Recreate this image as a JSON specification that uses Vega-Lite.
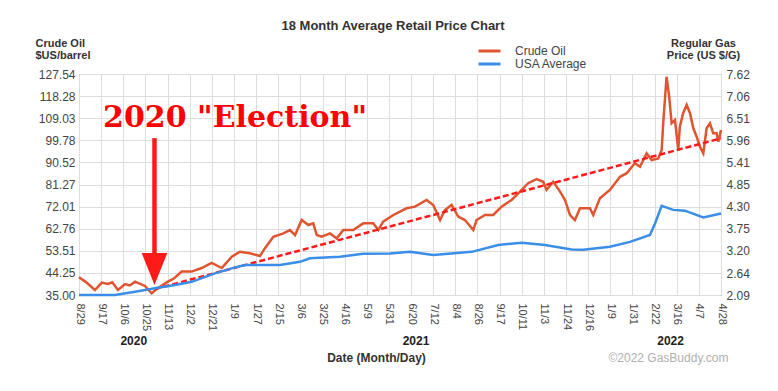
{
  "$schema": "https://vega.github.io/schema/vega-lite/v6.json",
  "width": 642,
  "height": 221,
  "autosize": {"type": "none"},
  "padding": {"left": 79, "top": 74, "right": 57, "bottom": 96},
  "background": "white",
  "title": {"text": "18 Month Average Retail Price Chart", "fontSize": 13, "fontWeight": "bold", "color": "#333333", "font": "Liberation Sans", "anchor": "middle", "frame": "group", "dx": -7},
  "config": {
    "font": "Liberation Sans",
    "view": {"stroke": "#555555", "strokeWidth": 1},
    "legend": {"orient": "none", "legendX": 404, "legendY": -29.5, "padding": 0, "rowPadding": 0, "symbolType": "M-2.2,0L2.2,0", "symbolSize": 100, "symbolStrokeWidth": 3, "labelFontSize": 12, "labelColor": "#444444", "labelOffset": 19, "title": null}
  },
  "datasets": {
    "oil": [
      {"t": 0.0, "v": 42.4, "series": "Crude Oil"},
      {"t": 0.3, "v": 40.5, "series": "Crude Oil"},
      {"t": 0.72, "v": 37.1, "series": "Crude Oil"},
      {"t": 1.03, "v": 40.2, "series": "Crude Oil"},
      {"t": 1.31, "v": 39.6, "series": "Crude Oil"},
      {"t": 1.5, "v": 40.3, "series": "Crude Oil"},
      {"t": 1.76, "v": 37.1, "series": "Crude Oil"},
      {"t": 2.08, "v": 39.6, "series": "Crude Oil"},
      {"t": 2.3, "v": 39.0, "series": "Crude Oil"},
      {"t": 2.53, "v": 40.6, "series": "Crude Oil"},
      {"t": 2.98, "v": 38.8, "series": "Crude Oil"},
      {"t": 3.28, "v": 35.7, "series": "Crude Oil"},
      {"t": 3.57, "v": 37.9, "series": "Crude Oil"},
      {"t": 4.02, "v": 40.6, "series": "Crude Oil"},
      {"t": 4.3, "v": 42.0, "series": "Crude Oil"},
      {"t": 4.64, "v": 44.8, "series": "Crude Oil"},
      {"t": 5.09, "v": 44.8, "series": "Crude Oil"},
      {"t": 5.54, "v": 46.3, "series": "Crude Oil"},
      {"t": 5.99, "v": 48.4, "series": "Crude Oil"},
      {"t": 6.45, "v": 46.3, "series": "Crude Oil"},
      {"t": 6.9, "v": 51.0, "series": "Crude Oil"},
      {"t": 7.27, "v": 53.1, "series": "Crude Oil"},
      {"t": 7.72, "v": 52.5, "series": "Crude Oil"},
      {"t": 8.17, "v": 51.3, "series": "Crude Oil"},
      {"t": 8.4, "v": 54.6, "series": "Crude Oil"},
      {"t": 8.78, "v": 59.4, "series": "Crude Oil"},
      {"t": 9.23, "v": 60.8, "series": "Crude Oil"},
      {"t": 9.53, "v": 62.2, "series": "Crude Oil"},
      {"t": 9.76, "v": 60.1, "series": "Crude Oil"},
      {"t": 10.06, "v": 66.4, "series": "Crude Oil"},
      {"t": 10.36, "v": 64.3, "series": "Crude Oil"},
      {"t": 10.58, "v": 65.0, "series": "Crude Oil"},
      {"t": 10.74, "v": 60.1, "series": "Crude Oil"},
      {"t": 10.96, "v": 59.4, "series": "Crude Oil"},
      {"t": 11.34, "v": 60.8, "series": "Crude Oil"},
      {"t": 11.64, "v": 58.7, "series": "Crude Oil"},
      {"t": 11.94, "v": 62.2, "series": "Crude Oil"},
      {"t": 12.39, "v": 62.2, "series": "Crude Oil"},
      {"t": 12.84, "v": 65.0, "series": "Crude Oil"},
      {"t": 13.29, "v": 65.0, "series": "Crude Oil"},
      {"t": 13.52, "v": 62.2, "series": "Crude Oil"},
      {"t": 13.74, "v": 65.7, "series": "Crude Oil"},
      {"t": 14.2, "v": 68.5, "series": "Crude Oil"},
      {"t": 14.8, "v": 71.3, "series": "Crude Oil"},
      {"t": 15.18, "v": 72.0, "series": "Crude Oil"},
      {"t": 15.7, "v": 74.8, "series": "Crude Oil"},
      {"t": 16.0, "v": 72.7, "series": "Crude Oil"},
      {"t": 16.31, "v": 66.4, "series": "Crude Oil"},
      {"t": 16.53, "v": 70.6, "series": "Crude Oil"},
      {"t": 16.83, "v": 72.7, "series": "Crude Oil"},
      {"t": 17.13, "v": 67.8, "series": "Crude Oil"},
      {"t": 17.43, "v": 66.4, "series": "Crude Oil"},
      {"t": 17.81, "v": 62.2, "series": "Crude Oil"},
      {"t": 17.96, "v": 66.4, "series": "Crude Oil"},
      {"t": 18.34, "v": 68.5, "series": "Crude Oil"},
      {"t": 18.71, "v": 68.5, "series": "Crude Oil"},
      {"t": 19.09, "v": 72.0, "series": "Crude Oil"},
      {"t": 19.54, "v": 74.8, "series": "Crude Oil"},
      {"t": 19.92, "v": 78.3, "series": "Crude Oil"},
      {"t": 20.29, "v": 81.8, "series": "Crude Oil"},
      {"t": 20.67, "v": 83.5, "series": "Crude Oil"},
      {"t": 20.97, "v": 82.4, "series": "Crude Oil"},
      {"t": 21.12, "v": 79.0, "series": "Crude Oil"},
      {"t": 21.42, "v": 82.4, "series": "Crude Oil"},
      {"t": 21.73, "v": 78.3, "series": "Crude Oil"},
      {"t": 21.95, "v": 74.8, "series": "Crude Oil"},
      {"t": 22.18, "v": 68.5, "series": "Crude Oil"},
      {"t": 22.4, "v": 66.4, "series": "Crude Oil"},
      {"t": 22.63, "v": 71.3, "series": "Crude Oil"},
      {"t": 23.08, "v": 71.3, "series": "Crude Oil"},
      {"t": 23.23, "v": 68.5, "series": "Crude Oil"},
      {"t": 23.53, "v": 75.5, "series": "Crude Oil"},
      {"t": 23.98, "v": 79.0, "series": "Crude Oil"},
      {"t": 24.44, "v": 84.5, "series": "Crude Oil"},
      {"t": 24.74, "v": 86.0, "series": "Crude Oil"},
      {"t": 25.11, "v": 90.2, "series": "Crude Oil"},
      {"t": 25.34, "v": 88.7, "series": "Crude Oil"},
      {"t": 25.64, "v": 94.3, "series": "Crude Oil"},
      {"t": 25.87, "v": 91.5, "series": "Crude Oil"},
      {"t": 26.17, "v": 92.2, "series": "Crude Oil"},
      {"t": 26.32, "v": 95.7, "series": "Crude Oil"},
      {"t": 26.39, "v": 106.9, "series": "Crude Oil"},
      {"t": 26.54, "v": 126.4, "series": "Crude Oil"},
      {"t": 26.66, "v": 118.0, "series": "Crude Oil"},
      {"t": 26.77, "v": 106.9, "series": "Crude Oil"},
      {"t": 26.92, "v": 108.3, "series": "Crude Oil"},
      {"t": 27.07, "v": 95.7, "series": "Crude Oil"},
      {"t": 27.14, "v": 105.5, "series": "Crude Oil"},
      {"t": 27.29, "v": 111.1, "series": "Crude Oil"},
      {"t": 27.45, "v": 114.6, "series": "Crude Oil"},
      {"t": 27.6, "v": 111.1, "series": "Crude Oil"},
      {"t": 27.75, "v": 104.8, "series": "Crude Oil"},
      {"t": 27.9, "v": 101.3, "series": "Crude Oil"},
      {"t": 28.05, "v": 97.1, "series": "Crude Oil"},
      {"t": 28.2, "v": 94.3, "series": "Crude Oil"},
      {"t": 28.35, "v": 104.8, "series": "Crude Oil"},
      {"t": 28.5, "v": 106.9, "series": "Crude Oil"},
      {"t": 28.65, "v": 102.7, "series": "Crude Oil"},
      {"t": 28.8, "v": 102.7, "series": "Crude Oil"},
      {"t": 28.88, "v": 99.2, "series": "Crude Oil"},
      {"t": 29.0, "v": 104.1, "series": "Crude Oil"}
    ],
    "gas": [
      {"t": 0.0, "v": 2.09, "series": "USA Average"},
      {"t": 1.63, "v": 2.09, "series": "USA Average"},
      {"t": 2.53, "v": 2.17, "series": "USA Average"},
      {"t": 3.43, "v": 2.26, "series": "USA Average"},
      {"t": 4.34, "v": 2.34, "series": "USA Average"},
      {"t": 5.09, "v": 2.42, "series": "USA Average"},
      {"t": 6.14, "v": 2.63, "series": "USA Average"},
      {"t": 7.05, "v": 2.78, "series": "USA Average"},
      {"t": 7.5, "v": 2.84, "series": "USA Average"},
      {"t": 9.08, "v": 2.84, "series": "USA Average"},
      {"t": 9.98, "v": 2.92, "series": "USA Average"},
      {"t": 10.43, "v": 3.01, "series": "USA Average"},
      {"t": 11.79, "v": 3.05, "series": "USA Average"},
      {"t": 12.84, "v": 3.12, "series": "USA Average"},
      {"t": 14.05, "v": 3.13, "series": "USA Average"},
      {"t": 14.95, "v": 3.17, "series": "USA Average"},
      {"t": 16.0, "v": 3.09, "series": "USA Average"},
      {"t": 17.74, "v": 3.17, "series": "USA Average"},
      {"t": 18.94, "v": 3.34, "series": "USA Average"},
      {"t": 20.0, "v": 3.4, "series": "USA Average"},
      {"t": 21.05, "v": 3.34, "series": "USA Average"},
      {"t": 22.25, "v": 3.23, "series": "USA Average"},
      {"t": 22.78, "v": 3.22, "series": "USA Average"},
      {"t": 23.98, "v": 3.3, "series": "USA Average"},
      {"t": 24.89, "v": 3.42, "series": "USA Average"},
      {"t": 25.79, "v": 3.59, "series": "USA Average"},
      {"t": 26.02, "v": 3.88, "series": "USA Average"},
      {"t": 26.32, "v": 4.32, "series": "USA Average"},
      {"t": 26.84, "v": 4.22, "series": "USA Average"},
      {"t": 27.37, "v": 4.2, "series": "USA Average"},
      {"t": 28.2, "v": 4.03, "series": "USA Average"},
      {"t": 29.0, "v": 4.13, "series": "USA Average"}
    ],
    "trend": [{"t": 3.43, "v": 37.5}, {"t": 29.0, "v": 100.6}],
    "arrow": [{"t": 3.41, "v": 100.7, "v2": 52, "head": 45.9}],
    "note": [{"t": 7.05, "v": 109.1, "label": "2020 \"Election\""}]
  },
  "layer": [
    {
      "layer": [
        {
          "data": {"name": "oil"},
          "mark": {"type": "line", "strokeWidth": 2.5, "interpolate": "linear"},
          "encoding": {
            "x": {"field": "t", "type": "quantitative", "scale": {"domain": [0, 29], "nice": false, "zero": false},
              "axis": {"values": [0,1,2,3,4,5,6,7,8,9,10,11,12,13,14,15,16,17,18,19,20,21,22,23,24,25,26,27,28,29], "tickCount": 60,
                "labelExpr": "['8/29','9/17','10/6','10/25','11/13','12/2','12/21','1/9','1/27','2/15','3/6','3/25','4/16','5/9','5/31','6/20','7/12','8/4','8/26','9/17','10/11','11/3','11/24','12/16','1/9','1/31','2/22','3/16','4/7','4/28'][datum.value]",
                "labelAngle": 90, "labelFontSize": 11, "labelColor": "#444444", "labelPadding": 8, "ticks": false, "domain": false, "labelFlush": false, "labelOverlap": false,
                "grid": true, "gridColor": "#dddddd", "gridWidth": 1,
                "title": "Date (Month/Day)", "titleFontSize": 12, "titleFontWeight": "bold", "titleColor": "#333333", "titleX": 297, "titleY": 66, "titleBaseline": "alphabetic", "titleAlign": "center"}},
            "y": {"field": "v", "type": "quantitative", "scale": {"domain": [35, 127.54], "nice": false, "zero": false},
              "axis": {"values": [35, 44.25, 53.51, 62.76, 72.01, 81.27, 90.52, 99.78, 109.03, 118.28, 127.54], "tickCount": 30, "format": ".2f",
                "labelFontSize": 12, "labelColor": "#444444", "labelPadding": 4, "ticks": false, "domain": false, "labelFlush": false, "labelOverlap": false,
                "grid": true, "gridColor": "#dddddd", "gridWidth": 1,
                "title": ["Crude Oil", "$US/barrel"], "titleAngle": 0, "titleAlign": "left", "titleBaseline": "alphabetic", "titleX": -44, "titleY": -28, "titleFontSize": 11, "titleFontWeight": "bold", "titleColor": "#333333", "titleLineHeight": 12.5}},
            "color": {"field": "series", "type": "nominal", "scale": {"domain": ["Crude Oil", "USA Average"], "range": ["#df5530", "#3a8ee8"]}}
          }
        },
        {
          "data": {"name": "trend"},
          "mark": {"type": "line", "color": "#ff1a1a", "strokeWidth": 2.5, "strokeDash": [6, 3]},
          "encoding": {
            "x": {"field": "t", "type": "quantitative"},
            "y": {"field": "v", "type": "quantitative"}
          }
        },
        {
          "data": {"name": "arrow"},
          "mark": {"type": "rule", "color": "#ff1a1a", "strokeWidth": 4.5},
          "encoding": {
            "x": {"field": "t", "type": "quantitative"},
            "y": {"field": "v", "type": "quantitative"},
            "y2": {"field": "v2"}
          }
        },
        {
          "data": {"name": "arrow"},
          "mark": {"type": "point", "shape": "M-0.8,-1L0.8,-1L0,1Z", "filled": true, "color": "#ff1a1a", "opacity": 1, "size": 1024},
          "encoding": {
            "x": {"field": "t", "type": "quantitative"},
            "y": {"field": "head", "type": "quantitative"}
          }
        },
        {
          "data": {"name": "note"},
          "mark": {"type": "text", "font": "DejaVu Serif", "fontWeight": "bold", "fontSize": 30, "color": "#ff0000", "align": "center", "baseline": "middle"},
          "encoding": {
            "x": {"field": "t", "type": "quantitative"},
            "y": {"field": "v", "type": "quantitative"},
            "text": {"field": "label"}
          }
        }
      ]
    },
    {
      "data": {"name": "gas"},
      "mark": {"type": "line", "strokeWidth": 2.5},
      "encoding": {
        "x": {"field": "t", "type": "quantitative", "scale": {"domain": [0, 29], "nice": false, "zero": false},
          "axis": {"orient": "bottom", "values": [2.45, 15.2, 26.7], "tickCount": 10, "labelExpr": "datum.value < 5 ? '2020' : (datum.value < 20 ? '2021' : '2022')",
            "labelAngle": 0, "labelAlign": "center", "labelBaseline": "top", "labelPadding": 40, "labelFontSize": 12, "labelFontWeight": "bold", "labelColor": "#222222",
            "ticks": false, "domain": false, "grid": false, "labelFlush": false, "labelOverlap": false,
            "title": "©2022 GasBuddy.com", "titleFontSize": 12, "titleFontWeight": "normal", "titleColor": "#b0b0b0", "titleX": 589, "titleY": 66, "titleBaseline": "alphabetic", "titleAlign": "center"}},
        "y": {"field": "v", "type": "quantitative", "scale": {"domain": [2.09, 7.62], "nice": false, "zero": false},
          "axis": {"orient": "right", "values": [2.09, 2.64, 3.2, 3.75, 4.3, 4.85, 5.41, 5.96, 6.51, 7.06, 7.62], "tickCount": 30, "format": ".2f",
            "labelFontSize": 12, "labelColor": "#444444", "labelPadding": 5, "ticks": false, "domain": false, "grid": false, "labelFlush": false, "labelOverlap": false,
            "title": ["Regular Gas", "Price (US $/G)"], "titleAngle": 0, "titleAlign": "center", "titleBaseline": "alphabetic", "titleX": -18, "titleY": -28, "titleFontSize": 11, "titleFontWeight": "bold", "titleColor": "#333333", "titleLineHeight": 12.5}},
        "color": {"field": "series", "type": "nominal"}
      }
    }
  ],
  "resolve": {"scale": {"y": "independent"}, "axis": {"x": "independent"}}
}
